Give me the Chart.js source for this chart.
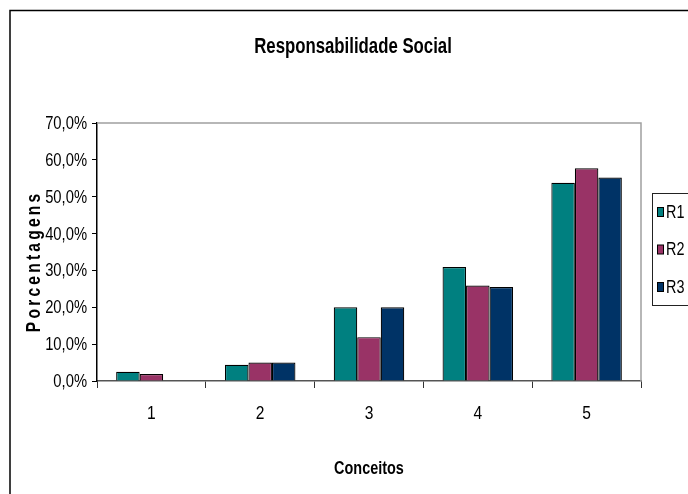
<!DOCTYPE html>
<html>
<head>
<meta charset="utf-8">
<script src="https://cdn.jsdelivr.net/npm/chart.js@4/dist/chart.umd.min.js"></script>
<style>
  html, body { margin: 0; padding: 0; background: #fff; }
  canvas { display: block; }
</style>
</head>
<body>
<canvas id="c" width="688" height="494"></canvas>
<script>
const categories = ['1', '2', '3', '4', '5'];
const seriesNames = ['R1', 'R2', 'R3'];
const r1 = [2.5, 4.4, 20.0, 30.9, 53.8];
const r2 = [1.9, 5.0, 11.9, 25.9, 57.7];
const r3 = [0.0, 5.0, 20.0, 25.5, 55.2];
const colors = ['#008080', '#993366', '#003366'];
const titleText = 'Responsabilidade Social';
const xTitle = 'Conceitos';
const yTitle = 'Porcentagens';

const FONT = "'Liberation Sans', Arial, sans-serif";
const SX = 0.8; // horizontal condensing to mimic Arial Narrow

function narrowText(ctx, text, x, y, font, align, sx) {
  ctx.save();
  ctx.translate(x, y);
  ctx.scale(sx || SX, 1);
  ctx.font = font;
  ctx.textAlign = align || 'center';
  ctx.textBaseline = 'middle';
  ctx.fillStyle = '#000';
  ctx.fillText(text, 0, 0);
  ctx.restore();
}

const decor = {
  id: 'decor',
  afterDraw(chart) {
    const ctx = chart.ctx;
    const a = chart.chartArea;
    ctx.save();
    // outer frame
    ctx.strokeStyle = '#000';
    ctx.lineWidth = 1.5;
    ctx.beginPath();
    ctx.moveTo(10, 494);
    ctx.lineTo(10, 10.5);
    ctx.lineTo(688, 10.5);
    ctx.stroke();
    // plot area border top/right
    ctx.strokeStyle = '#a0a0a0';
    ctx.lineWidth = 1.5;
    ctx.beginPath();
    ctx.moveTo(a.left, a.top);
    ctx.lineTo(a.right, a.top);
    ctx.lineTo(a.right, a.bottom);
    ctx.stroke();
    ctx.restore();

    // tick labels
    const ys = chart.scales.y;
    ys.ticks.forEach((t, i) => {
      narrowText(ctx, ys.ticks[i].label, 87, ys.getPixelForTick(i) + 1, '18px ' + FONT, 'right', 0.82);
    });
    const xs = chart.scales.x;
    xs.ticks.forEach((t, i) => {
      narrowText(ctx, String(xs.ticks[i].label), xs.getPixelForTick(i), 414, '19px ' + FONT, 'center', 0.82);
    });

    // title
    narrowText(ctx, titleText, 353, 47, 'bold 21.5px ' + FONT, 'center', 0.78);
    // x title
    narrowText(ctx, xTitle, (a.left + a.right) / 2, 469, 'bold 18.5px ' + FONT, 'center', 0.78);
    // y title (letter spaced)
    ctx.save();
    ctx.translate(35, 263);
    ctx.rotate(-Math.PI / 2);
    ctx.scale(0.8, 1);
    ctx.font = 'bold 19.5px ' + FONT;
    ctx.letterSpacing = '4px';
    ctx.textAlign = 'center';
    ctx.textBaseline = 'middle';
    ctx.fillStyle = '#000';
    ctx.fillText(yTitle, 2, 0);
    ctx.restore();

    // legend
    ctx.save();
    ctx.strokeStyle = '#222';
    ctx.lineWidth = 1;
    ctx.strokeRect(652.5, 193.5, 60, 112);
    chart.data.datasets.forEach((ds, i) => {
      const cy = 212 + i * 37.5;
      ctx.fillStyle = ds.backgroundColor;
      ctx.fillRect(657, cy - 4.5, 6, 9);
      ctx.strokeStyle = '#000';
      ctx.strokeRect(657.5, cy - 4.5, 6, 9);
      narrowText(ctx, ds.label, 666, cy + 1, '18px ' + FONT, 'left', 0.8);
    });
    ctx.restore();
  }
};

new Chart(document.getElementById('c'), {
  type: 'bar',
  data: {
    labels: categories,
    datasets: [r1, r2, r3].map((d, i) => ({
      label: seriesNames[i],
      data: d,
      backgroundColor: colors[i],
      borderColor: '#000',
      borderWidth: 1.2,
      barPercentage: 1,
      categoryPercentage: 0.648
    }))
  },
  options: {
    responsive: false,
    animation: false,
    devicePixelRatio: 1,
    layout: { padding: { top: 123, right: 47, left: 0, bottom: 0 } },
    plugins: { legend: { display: false }, title: { display: false }, tooltip: { enabled: false } },
    scales: {
      x: {
        afterFit(s) { s.height = 113; },
        grid: { display: true, drawOnChartArea: false, drawTicks: true, tickLength: 7, color: '#333', offset: true },
        border: { display: true, color: '#555', width: 1.5 },
        ticks: { display: false }
      },
      y: {
        min: 0, max: 70,
        afterFit(s) { s.width = 97; },
        grid: { display: true, drawOnChartArea: false, drawTicks: true, tickLength: 5, color: '#000' },
        border: { display: true, color: '#000', width: 1.5 },
        ticks: {
          display: false,
          stepSize: 10,
          callback: v => v.toFixed(1).replace('.', ',') + '%'
        }
      }
    }
  },
  plugins: [decor]
});
</script>
</body>
</html>
